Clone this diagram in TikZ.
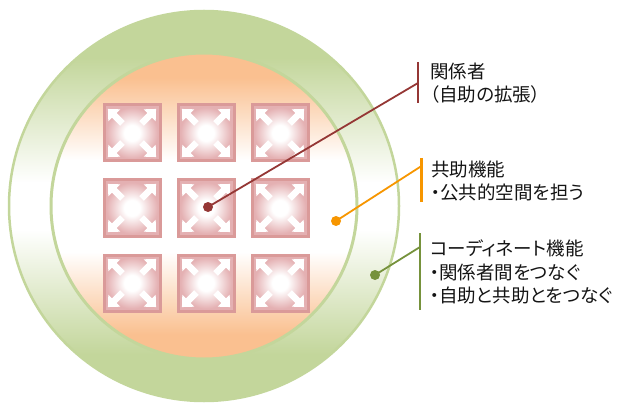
\documentclass[tikz,border=0pt]{standalone}
\usepackage{fontspec}
\setmainfont[RawFeature=+palt]{Noto Sans CJK JP}
\usetikzlibrary{positioning}

\definecolor{ringgreen}{RGB}{195,214,155}
\definecolor{coreorange}{RGB}{250,192,144}
\definecolor{cellrose}{RGB}{218,154,153}
\definecolor{cellpink}{RGB}{228,176,178}
\definecolor{leadred}{RGB}{149,55,53}
\definecolor{leadorange}{RGB}{247,150,0}
\definecolor{leadgreen}{RGB}{118,146,60}
\definecolor{notetext}{RGB}{20,20,20}

% the path is stretched over 25bp..75bp of a shading
\pgfdeclareverticalshading{ringfade}{100bp}{color(0bp)=(ringgreen); color(31bp)=(ringgreen); color(47bp)=(white); color(53bp)=(white); color(69bp)=(ringgreen); color(100bp)=(ringgreen)}
\pgfdeclareverticalshading{corefade}{100bp}{color(0bp)=(coreorange); color(29bp)=(coreorange); color(42.5bp)=(white); color(57.5bp)=(white); color(71bp)=(coreorange); color(100bp)=(coreorange)}
\pgfdeclareradialshading{cellglow}{\pgfpoint{0bp}{0bp}}{color(0bp)=(white); color(7bp)=(white); color(23bp)=(cellpink); color(50bp)=(cellpink)}

\tikzset{
	dot/.style={circle, inner sep=0pt, minimum size=10pt},
	note/.style={anchor=west, inner sep=0pt, align=left, text=notetext, font=\fontsize{18.5}{23.5}\selectfont},
	lead/.style={line width=1.8pt},
	bar/.style={line width=2.5pt}
}

\begin{document}
\begin{tikzpicture}[x=1pt, y=-1pt]
	\useasboundingbox (0,0) rectangle (617,403);
	\coordinate (O) at (204,206);
	\coordinate (selftop) at (418,62);
	\coordinate (selfjoin) at (418,83);
	\coordinate (selfbot) at (418,103);
	\coordinate (sharetop) at (421.5,158);
	\coordinate (sharejoin) at (421.5,166);
	\coordinate (sharebot) at (421.5,202);
	\coordinate (linktop) at (420,233);
	\coordinate (linkjoin) at (420,247);
	\coordinate (linkbot) at (420,310);
	
	% Draw the two rings
	\shadedraw[draw=ringgreen, line width=2.5pt, shading=ringfade] (O) circle[radius=195];
	\shadedraw[draw=ringgreen, line width=3pt, shading=corefade] (O) circle[radius=153];
	
	% Draw the cells with their arrows
	\foreach \cx in {132,206,280}
	\foreach \cy in {133,208,283} {
		\shadedraw[draw=cellrose, line width=3pt, shading=cellglow] (\cx-28,\cy-28) rectangle (\cx+28,\cy+28);
		\foreach \ang in {45,135,-135,-45}
		\fill[white, shift={(\cx,\cy)}, rotate=\ang] (34,0) -- (25,8.5) -- (25,3.3) -- (13.5,3.3) -- (13.5,-3.3) -- (25,-3.3) -- (25,-8.5) -- cycle;
	}
	
	% Draw the callouts
	\node[dot, fill=leadred] (selfdot) at (208,207) {};
	\node[dot, fill=leadorange] (sharedot) at (336,221) {};
	\node[dot, fill=leadgreen] (linkdot) at (375,275) {};
	\draw[lead, leadred] (selfdot.center) -- (selfjoin);
	\draw[lead, leadorange] (sharedot.center) -- (sharejoin);
	\draw[lead, leadgreen] (linkdot.center) -- (linkjoin);
	\draw[bar, leadred] (selftop) -- (selfbot);
	\draw[bar, leadorange] (sharetop) -- (sharebot);
	\draw[bar, leadgreen] (linktop) -- (linkbot);
	\node[note] (selfnote) at (430,83) {関係者\\（自助の拡張）};
	\node[note] (sharenote) at (431,181) {共助機能\\・公共的空間を担う};
	\node[note] (linknote) at (430,272) {コーディネート機能\\・関係者間をつなぐ\\・自助と共助とをつなぐ};
\end{tikzpicture}
\end{document}
